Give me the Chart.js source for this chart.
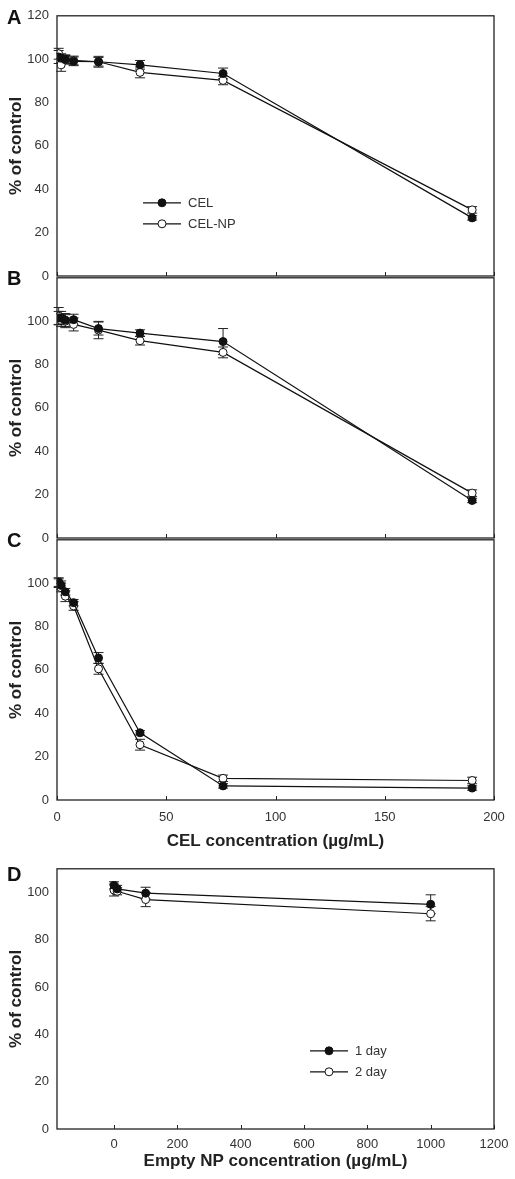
<!DOCTYPE html>
<html lang="en">
<head>
<meta charset="UTF-8">
<title>CEL viability panels</title>
<script src="https://cdn.jsdelivr.net/npm/chart.js@4.4.0/dist/chart.umd.min.js"></script>
<style>
  body { margin: 0; background: #fff; width: 515px; height: 1179px; position: relative; overflow: hidden;
         font-family: "Liberation Sans", Arial, sans-serif; }
  .panel { position: absolute; left: 0; width: 515px; }
  .letter { position: absolute; left: 7px; font-weight: bold; font-size: 20px; color: #111; line-height: 20px; }
</style>
</head>
<body>
<div class="panel" style="top:0px"><canvas id="cA" width="515" height="300"></canvas></div>
<div class="panel" style="top:262px"><canvas id="cB" width="515" height="300"></canvas></div>
<div class="panel" style="top:524px"><canvas id="cC" width="515" height="340"></canvas></div>
<div class="panel" style="top:853px"><canvas id="cD" width="515" height="326"></canvas></div>
<div class="letter" style="top:7px">A</div>
<div class="letter" style="top:268px">B</div>
<div class="letter" style="top:530px">C</div>
<div class="letter" style="top:864px">D</div>

<script>
// CEL concentrations (ug/mL)
var celConc = [0.76, 1.9, 3.8, 7.6, 19, 38, 76, 190];
var celTicks = [0, 50, 100, 150, 200];

// panel A
var aCel = [101, 100.5, 100, 99, 98.8, 97.4, 93.4, 26.8];
var aCelErr = [3, 2, 2, 2, 2, 2, 2.5, 1];
var aNp = [102.5, 97.4, 99.7, 99.4, 98.8, 93.9, 90.2, 30.5];
var aNpErr = [2.5, 3, 2, 2, 2.5, 2.5, 2, 1.5];

// panel B
var bCel = [101.5, 101.5, 100.5, 100.7, 96.6, 94.5, 90.6, 17.3];
var bCelErr = [3, 3, 3, 2.5, 3, 1.5, 6, 1];
var bNp = [102.3, 100.5, 100, 98.5, 95.9, 91, 85.6, 20.7];
var bNpErr = [4, 3, 3, 3, 4, 2, 2.5, 1.5];

// panel C
var cCel = [100.5, 99, 96, 91, 65.5, 31, 6.5, 5.5];
var cCelErr = [2, 2, 1.5, 1.5, 2.5, 1, 1, 1];
var cNp = [100, 98, 94, 89.5, 60.5, 25.5, 10, 9];
var cNpErr = [2, 2, 2.5, 2, 2.5, 2.5, 1.5, 1.5];

// panel D, empty NP
var npConc = [0, 10, 100, 1000];
var npTicks = [0, 200, 400, 600, 800, 1000, 1200];
var day1 = [103, 101.5, 99.7, 95];
var day1Err = [1.5, 1.5, 2.5, 4];
var day2 = [101, 100.5, 97, 91];
var day2Err = [2.5, 1.5, 3, 3];

var ink = '#111';
var fontFam = '"Liberation Sans", Arial, sans-serif';
Chart.defaults.font.family = fontFam;

// error bars under the markers
var errorBars = {
  id: 'errorBars',
  beforeDatasetsDraw: function (chart) {
    var ctx = chart.ctx, ys = chart.scales.y;
    ctx.save();
    ctx.strokeStyle = '#222';
    ctx.lineWidth = 1;
    chart.data.datasets.forEach(function (ds, di) {
      var meta = chart.getDatasetMeta(di);
      ds.data.forEach(function (p, i) {
        var e = ds.errors[i];
        var px = meta.data[i].x;
        var top = ys.getPixelForValue(p.y + e), bot = ys.getPixelForValue(p.y - e);
        ctx.beginPath();
        ctx.moveTo(px, top); ctx.lineTo(px, bot);
        ctx.moveTo(px - 5, top); ctx.lineTo(px + 5, top);
        ctx.moveTo(px - 5, bot); ctx.lineTo(px + 5, bot);
        ctx.stroke();
      });
    });
    ctx.restore();
  }
};

// box round the plot and inward tick marks on x
var frame = {
  id: 'frame',
  afterDraw: function (chart, args, opts) {
    var a = chart.chartArea, ctx = chart.ctx, xs = chart.scales.x;
    ctx.save();
    ctx.strokeStyle = '#222';
    ctx.lineWidth = 1.3;
    ctx.strokeRect(a.left, a.top, a.right - a.left, a.bottom - a.top);
    ctx.lineWidth = 1;
    ctx.beginPath();
    opts.ticks.forEach(function (t) {
      var px = Math.round(xs.getPixelForValue(t)) + 0.5;
      ctx.moveTo(px, a.bottom); ctx.lineTo(px, a.bottom - 4);
    });
    ctx.stroke();
    ctx.restore();
  }
};

// legend drawn inside the plot
var innerLegend = {
  id: 'innerLegend',
  afterDraw: function (chart, args, opts) {
    if (!opts.show) return;
    var a = chart.chartArea, ctx = chart.ctx;
    ctx.save();
    chart.data.datasets.forEach(function (ds, i) {
      var y = a.top + opts.y + i * 21;
      var x0 = a.left + opts.x;
      ctx.strokeStyle = ink; ctx.lineWidth = 1.2;
      ctx.beginPath(); ctx.moveTo(x0, y); ctx.lineTo(x0 + 38, y); ctx.stroke();
      ctx.beginPath(); ctx.arc(x0 + 19, y, 4, 0, Math.PI * 2);
      ctx.fillStyle = ds.pointBackgroundColor; ctx.fill();
      ctx.lineWidth = 1; ctx.stroke();
      ctx.fillStyle = '#333';
      ctx.font = '13px ' + fontFam;
      ctx.textBaseline = 'middle';
      ctx.fillText(ds.label, x0 + 45, y + 1);
    });
    ctx.restore();
  }
};

function series(label, xs, ys, errs, filled) {
  return {
    label: label,
    data: xs.map(function (x, i) { return { x: x, y: ys[i] }; }),
    errors: errs,
    showLine: true,
    borderColor: ink,
    borderWidth: 1.2,
    backgroundColor: filled ? ink : '#fff',
    pointBackgroundColor: filled ? ink : '#fff',
    pointBorderColor: ink,
    pointBorderWidth: 1,
    pointRadius: 4,
    tension: 0
  };
}

function panel(id, cfg) {
  var xOn = !!cfg.xTitle;
  return new Chart(document.getElementById(id), {
    type: 'scatter',
    data: { datasets: cfg.datasets },
    plugins: [errorBars, frame, innerLegend],
    options: {
      responsive: false,
      animation: false,
      layout: { padding: { left: 0, right: 21, top: 14, bottom: cfg.padBottom } },
      plugins: {
        legend: { display: false },
        tooltip: { enabled: false },
        frame: { ticks: cfg.xTicks },
        innerLegend: cfg.legend || { show: false }
      },
      scales: {
        x: {
          type: 'linear', min: cfg.xmin, max: cfg.xmax, display: xOn,
          afterBuildTicks: function (s) { s.ticks = cfg.xTicks.map(function (v) { return { value: v }; }); },
          grid: { display: false, drawTicks: false },
          border: { display: false },
          ticks: { padding: cfg.xPad || 8, color: '#333', font: { size: 13 }, maxRotation: 0, autoSkip: false,
                   callback: function (v) { return String(v); } },
          title: { display: xOn, text: cfg.xTitle, color: '#222',
                   font: { size: 17, weight: 'bold' }, padding: { top: 2, bottom: 0 } },
          afterFit: function (s) {
            s.height = cfg.xHeight || 0;
            s.paddingLeft = 0; s.paddingRight = 0;
          }
        },
        y: {
          min: 0, max: cfg.ymax,
          grid: { display: false, drawTicks: false },
          border: { display: false },
          ticks: { stepSize: 20, includeBounds: false, padding: 8, color: '#333', font: { size: 13 },
                   callback: function (v) { return (cfg.hideTop && v === cfg.ymax) ? '' : v; } },
          title: { display: true, text: '% of control', color: '#222',
                   font: { size: 17, weight: 'bold' }, padding: { top: 6, bottom: 0 } },
          afterFit: function (s) { s.width = 57; }
        }
      }
    }
  });
}

panel('cA', {
  datasets: [series('CEL', celConc, aCel, aCelErr, true), series('CEL-NP', celConc, aNp, aNpErr, false)],
  xmin: 0, xmax: 200, xTicks: celTicks, ymax: 120, padBottom: 24,
  legend: { show: true, x: 86, y: 187 }
});
panel('cB', {
  datasets: [series('CEL', celConc, bCel, bCelErr, true), series('CEL-NP', celConc, bNp, bNpErr, false)],
  xmin: 0, xmax: 200, xTicks: celTicks, ymax: 120, hideTop: true, padBottom: 24
});
panel('cC', {
  datasets: [series('CEL', celConc, cCel, cCelErr, true), series('CEL-NP', celConc, cNp, cNpErr, false)],
  xmin: 0, xmax: 200, xTicks: celTicks, ymax: 120, hideTop: true, padBottom: 12,
  xHeight: 52, xPad: 10, xTitle: 'CEL concentration (\u00b5g/mL)'
});
panel('cD', {
  datasets: [series('1 day', npConc, day1, day1Err, true), series('2 day', npConc, day2, day2Err, false)],
  xmin: -180, xmax: 1200, xTicks: npTicks, ymax: 110, padBottom: 7,
  xHeight: 43, xTitle: 'Empty NP concentration (\u00b5g/mL)',
  legend: { show: true, x: 253, y: 182 }
});
</script>
</body>
</html>
